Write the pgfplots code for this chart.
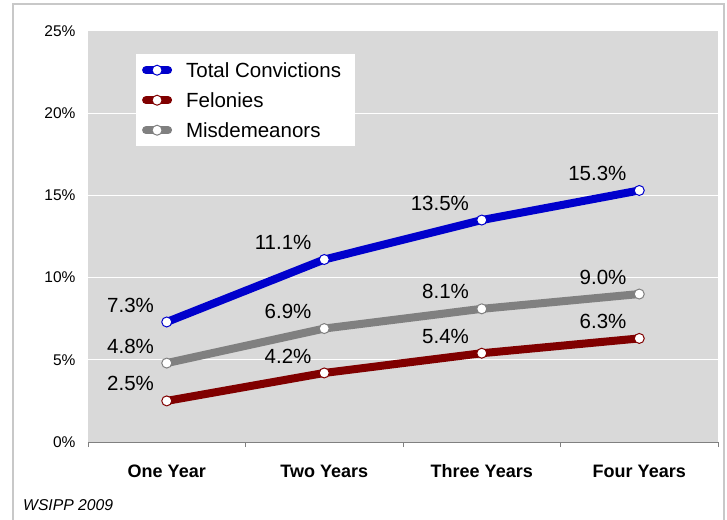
\documentclass[border=0pt]{standalone}
\usepackage{pgfplots}
\pgfplotsset{compat=1.18}
\usepackage{fontspec}
\setmainfont{Liberation Sans}
\definecolor{tot}{RGB}{0,0,204}
\definecolor{fel}{RGB}{128,0,0}
\definecolor{mis}{RGB}{128,128,128}
\definecolor{bg}{RGB}{217,217,217}
\definecolor{framec}{RGB}{200,200,200}
\begin{document}
\begin{tikzpicture}[x=1pt,y=1pt]
\useasboundingbox (0,0) rectangle (727,519);
\draw[framec, line width=1.3pt] (13,-5) -- (13,515) -- (724,515) -- (724,-5);
\begin{axis}[
  at={(88pt,77pt)}, anchor=south west,
  scale only axis, width=630pt, height=411pt,
  xmin=-0.5, xmax=3.5, ymin=0, ymax=25,
  clip=false,
  axis background/.style={fill=bg},
  axis x line*=bottom, axis y line*=left,
  x axis line style={draw=gray, line width=1pt, -},
  y axis line style={draw=none},
  xtick={0,1,2,3},
  xticklabels={One Year,Two Years,Three Years,Four Years},
  minor xtick={-0.5,0.5,1.5,2.5,3.5},
  major tick length=0pt,
  minor tick length=5pt,
  tick align=outside,
  minor tick style={gray, line width=0.8pt},
  xticklabel style={font=\fontsize{18}{21}\selectfont\bfseries, text height=13pt, text depth=4pt, yshift=-19pt},
  ytick={0,5,10,15,20,25},
  yticklabels={0\%,5\%,10\%,15\%,20\%,25\%},
  yticklabel style={font=\fontsize{15.5}{18}\selectfont, xshift=-9pt},
  ymajorgrids,
  major grid style={white, line width=1pt},
  legend cell align=left,
  legend style={at={(0.076,0.944)}, anchor=north west, fill=white, draw=none,
    font=\fontsize{20.5}{24}\selectfont, inner xsep=6pt, inner ysep=5pt,
    nodes={inner sep=0pt, text height=18pt, text depth=4pt},
    row sep=8pt,
    /tikz/every odd column/.append style={column sep=14pt}},
  legend image code/.code={\draw[mark repeat=2,mark phase=2,line cap=round,#1] plot coordinates {(0pt,0pt)(11pt,0pt)(22pt,0pt)};},
  nodes near coords={\pgfmathprintnumber[fixed,fixed zerofill,precision=1,assume math mode=true]{\pgfplotspointmeta}\%},
  every node near coord/.append style={font=\fontsize{20.5}{24}\selectfont, color=black, anchor=east, xshift=-9pt, yshift=17pt},
  every axis plot/.append style={line width=8pt, mark=*, mark size=5pt},
]
\addplot[tot, mark options={fill=white, draw=tot, line width=1pt}] coordinates {(0,7.3) (1,11.1) (2,13.5) (3,15.3)};
\addlegendentry{Total Convictions\rule{8pt}{0pt}}
\addplot[fel, mark options={fill=white, draw=fel, line width=1pt}] coordinates {(0,2.5) (1,4.2) (2,5.4) (3,6.3)};
\addlegendentry{Felonies}
\addplot[mis, mark options={fill=white, draw=mis, line width=1pt}] coordinates {(0,4.8) (1,6.9) (2,8.1) (3,9.0)};
\addlegendentry{Misdemeanors}
\end{axis}
\node[anchor=west, font=\fontsize{15.7}{18}\selectfont\itshape, inner sep=0pt] at (23,14) {WSIPP 2009};
\end{tikzpicture}
\end{document}
